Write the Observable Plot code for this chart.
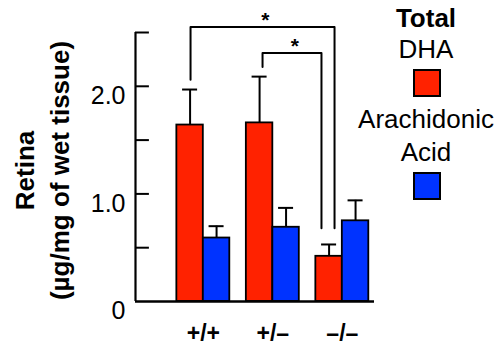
<!DOCTYPE html>
<html><head><meta charset="utf-8">
<script src="https://cdn.jsdelivr.net/npm/d3@7"></script>
<script src="https://cdn.jsdelivr.net/npm/@observablehq/plot@0.6"></script>
<style>
html,body{margin:0;padding:0;background:#fff;}
#wrap{position:relative;width:496px;height:348px;overflow:hidden;font-family:"Liberation Sans",Arial,sans-serif;color:#000;}
#chart{position:absolute;left:0;top:0;}
.lg{position:absolute;left:356px;width:140px;text-align:center;font-size:26px;line-height:26px;white-space:nowrap;}
.sw{position:absolute;left:413px;width:28px;height:28px;box-sizing:border-box;border:2px solid #000;}
</style></head>
<body><div id="wrap"><div id="chart"></div></div>
<script>
// ---- data ----
const genotypes = ["+/+", "+/–", "–/–"];
const seriesNames = ["DHA", "Arachidonic Acid"];
const seriesColors = ["#ff2200", "#0033ff"];
const legendTitle = "Total";
const dhaMean = [1.64, 1.66, 0.42];
const dhaErr = [0.33, 0.43, 0.11];
const aaMean = [0.59, 0.69, 0.75];
const aaErr = [0.11, 0.18, 0.19];
const yTicks = [0, 0.5, 1, 1.5, 2, 2.5];
const yTickLabels = ["0", "", "1.0", "", "2.0", ""];
const yTitle = ["Retina", "(µg/mg of wet tissue)"];
// significance brackets (group index from -> to)
const sigFrom = [0, 1];
const sigTo = [2, 2];
const sigTop = [2.55, 2.31];
const sigLeftEnd = [2.06, 2.18];
const sigRightEnd = [0.68, 0.68];
const sigText = ["*", "*"];

// ---- layout (group units) ----
const xMin = -0.976, xMax = 2.463;
const bw = 0.381;            // bar width
const capHalf = 0.108;       // error cap half width
const tickLen = 0.2;         // inward y tick length
const legOffL = [-0.184, -0.148];
const legOffR = [-0.112, -0.30];

const means = [dhaMean, aaMean], errs = [dhaErr, aaErr];
const rows = genotypes.flatMap((g, i) => [0, 1].map(s => ({
  g, i, s, v: means[s][i], e: errs[s][i],
  x1: i + (s - 1) * bw, x2: i + s * bw, xc: i + (s - 0.5) * bw
})));

const bracketPts = sigFrom.flatMap((f, k) => {
  const xl = f + legOffL[k], xr = sigTo[k] + legOffR[k];
  return [
    {k, x: xl, y: sigLeftEnd[k]}, {k, x: xl, y: sigTop[k]},
    {k, x: xr, y: sigTop[k]}, {k, x: xr, y: sigRightEnd[k]}
  ];
});
const stars = sigFrom.map((f, k) => ({
  x: ((f + legOffL[k]) + (sigTo[k] + legOffR[k])) / 2 + 0.04,
  y: sigTop[k], t: sigText[k]
}));

const plot = Plot.plot({
  width: 496, height: 348,
  marginLeft: 135, marginRight: 122, marginTop: 32, marginBottom: 47,
  style: {fontFamily: "Liberation Sans, Arial, sans-serif", fontSize: "25px", color: "#000", background: "#fff", overflow: "visible"},
  x: {domain: [xMin, xMax], axis: null},
  y: {domain: [0, 2.5], axis: null},
  marks: [
    Plot.rect(rows, {x1: "x1", x2: "x2", y1: 0, y2: "v", fill: d => seriesColors[d.s], stroke: "#000", strokeWidth: 1.8}),
    Plot.ruleX(rows, {x: "xc", y1: "v", y2: d => d.v + d.e, strokeWidth: 2}),
    Plot.ruleY(rows, {y: d => d.v + d.e, x1: d => d.xc - capHalf, x2: d => d.xc + capHalf, strokeWidth: 2}),
    Plot.ruleY([0], {strokeWidth: 2.6}),
    Plot.ruleX([xMin], {y1: 0, y2: 2.5, strokeWidth: 2.2}),
    Plot.ruleY(yTicks.filter(t => t > 0), {y: d => d, x1: xMin, x2: xMin + tickLen, strokeWidth: 2}),
    Plot.text(yTicks, {x: xMin, y: d => d, text: (d, i) => yTickLabels[i], textAnchor: "end", lineAnchor: "top", dx: -10, fontSize: 25}),
    Plot.text(genotypes, {x: (d, i) => i, y: 0, text: d => d, lineAnchor: "middle", dy: 32, fontSize: 23, fontWeight: "bold"}),
    Plot.line(bracketPts, {x: "x", y: "y", z: "k", stroke: "#000", strokeWidth: 2}),
    Plot.text(stars, {x: "x", y: "y", text: "t", lineAnchor: "middle", dy: -7, fontSize: 21, fontWeight: "bold"}),
    Plot.text([yTitle[0]], {frameAnchor: "left", textAnchor: "middle", lineAnchor: "middle", rotate: -90, dx: -110, dy: 3.5, fontSize: 26, fontWeight: "bold"}),
    Plot.text([yTitle[1]], {frameAnchor: "left", textAnchor: "middle", lineAnchor: "middle", rotate: -90, dx: -75, dy: 3.5, fontSize: 26, fontWeight: "bold"})
  ]
});
const wrap = document.getElementById("wrap");
document.getElementById("chart").appendChild(plot);

// legend
function addText(txt, top, bold) {
  const d = document.createElement("div");
  d.className = "lg"; d.style.top = top + "px";
  if (bold) d.style.fontWeight = "bold";
  d.textContent = txt; wrap.appendChild(d);
}
function addSwatch(color, top) {
  const d = document.createElement("div");
  d.className = "sw"; d.style.top = top + "px"; d.style.background = color;
  wrap.appendChild(d);
}
addText(legendTitle, 5, true);
addText(seriesNames[0], 36, false);
addSwatch(seriesColors[0], 69);
const aaWords = seriesNames[1].split(" ");
addText(aaWords[0], 106, false);
addText(aaWords[1], 139, false);
addSwatch(seriesColors[1], 172);
</script>
</body></html>
